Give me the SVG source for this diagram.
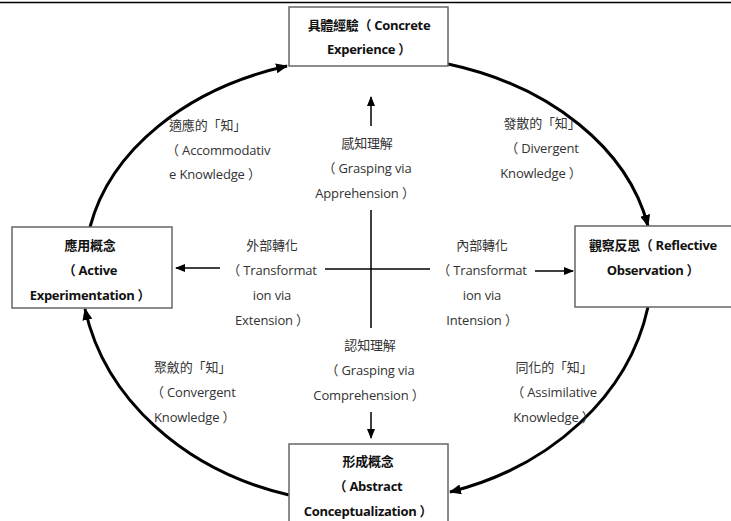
<svg xmlns="http://www.w3.org/2000/svg" width="731" height="521" viewBox="0 0 731 521">
<style>
.box{fill:#fff;stroke:#666;stroke-width:1.5}
.bt{font-family:"Open Sans","Noto Sans CJK TC",sans-serif;font-size:13px;font-weight:bold;fill:#111;text-anchor:middle;letter-spacing:-0.3px}
.lt{font-family:"Open Sans","Noto Sans CJK TC",sans-serif;font-size:13px;fill:#333;letter-spacing:-0.15px}
.c{text-anchor:middle}
.arc{fill:none;stroke:#000;stroke-width:3;marker-end:url(#ah)}
.ln{fill:none;stroke:#000;stroke-width:1.5}
.ar{marker-end:url(#sh)}
</style>
<defs>
<marker id="ah" markerUnits="userSpaceOnUse" markerWidth="12" markerHeight="10" refX="11" refY="5" orient="auto"><path d="M0,0 L12,5 L0,10 Z" fill="#000"/></marker>
<marker id="sh" markerUnits="userSpaceOnUse" markerWidth="10" markerHeight="8" refX="9" refY="4" orient="auto"><path d="M0,0 L10,4 L0,8 Z" fill="#000"/></marker>
</defs>
<rect width="731" height="521" fill="#fff"/>
<line x1="0" y1="2.5" x2="731" y2="2.5" stroke="#000" stroke-width="1.5"/>
<g id="connectors">
<path class="arc" d="M90,227 A285,210 0 0,1 287,66"/>
<path class="arc" d="M448,64 A285,210 0 0,1 648,226"/>
<path class="arc" d="M648,307 A285,238 0 0,1 450,492"/>
<path class="arc" d="M289,495 A285,238 0 0,1 85,309"/>
<line class="ln ar" x1="371" y1="126" x2="371" y2="97"/>
<line class="ln" x1="371" y1="210" x2="371" y2="328"/>
<line class="ln" x1="325" y1="269" x2="430" y2="269"/>
<line class="ln ar" x1="220" y1="268" x2="176" y2="268"/>
<line class="ln ar" x1="535" y1="271" x2="573" y2="271"/>
<line class="ln ar" x1="371" y1="412" x2="371" y2="438"/>
</g>
<g id="concrete">
<rect class="box" x="289" y="7" width="159" height="59"/>
<text class="bt" x="369" y="30">具體經驗（ Concrete</text>
<text class="bt" x="369" y="54">Experience ）</text>
</g>
<g id="reflective">
<rect class="box" x="575" y="226" width="160" height="81"/>
<text class="bt" x="653" y="250">觀察反思（ Reflective</text>
<text class="bt" x="653" y="275">Observation ）</text>
</g>
<g id="active">
<rect class="box" x="12" y="227" width="160" height="81"/>
<text class="bt" x="90" y="250">應用概念</text>
<text class="bt" x="90" y="275">（ Active</text>
<text class="bt" x="90" y="300">Experimentation ）</text>
</g>
<g id="abstract">
<rect class="box" x="289" y="444" width="159" height="85"/>
<text class="bt" x="368" y="466">形成概念</text>
<text class="bt" x="368" y="491">（ Abstract</text>
<text class="bt" x="368" y="516">Conceptualization ）</text>
</g>
<g id="labels">
<text class="lt" x="169" y="130">適應的「知」</text>
<text class="lt" x="166" y="155">（ Accommodativ</text>
<text class="lt" x="169" y="179">e Knowledge ）</text>
<text class="lt c" x="367" y="148">感知理解</text>
<text class="lt c" x="367" y="173">（ Grasping via</text>
<text class="lt c" x="365" y="198">Apprehension ）</text>
<text class="lt c" x="542" y="128">發散的「知」</text>
<text class="lt c" x="542" y="153">（ Divergent</text>
<text class="lt c" x="541" y="178">Knowledge ）</text>
<text class="lt c" x="272" y="250">外部轉化</text>
<text class="lt c" x="272" y="275">（ Transformat</text>
<text class="lt c" x="272" y="300">ion via</text>
<text class="lt c" x="272" y="325">Extension ）</text>
<text class="lt c" x="482" y="250">內部轉化</text>
<text class="lt c" x="482" y="275">（ Transformat</text>
<text class="lt c" x="482" y="300">ion via</text>
<text class="lt c" x="482" y="325">Intension ）</text>
<text class="lt c" x="370" y="350">認知理解</text>
<text class="lt c" x="370" y="375">（ Grasping via</text>
<text class="lt c" x="369" y="400">Comprehension ）</text>
<text class="lt" x="154" y="372">聚斂的「知」</text>
<text class="lt" x="151" y="397">（ Convergent</text>
<text class="lt" x="154" y="422">Knowledge ）</text>
<text class="lt c" x="554" y="372">同化的「知」</text>
<text class="lt c" x="554" y="397">（ Assimilative</text>
<text class="lt c" x="554" y="422">Knowledge ）</text>
</g>
</svg>
